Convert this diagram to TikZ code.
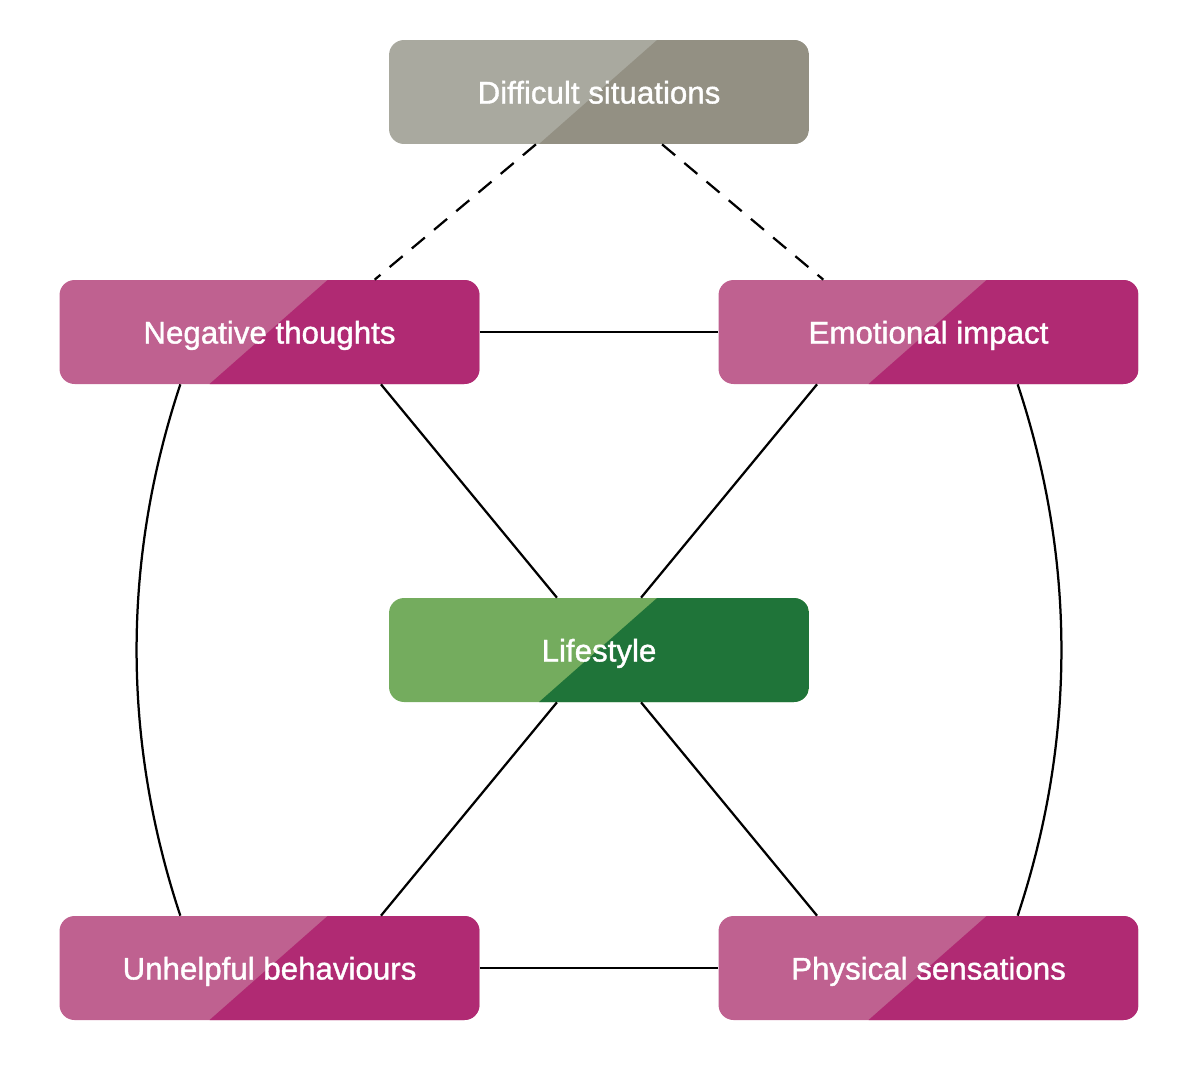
\documentclass[tikz,border=0pt]{standalone}
\usepackage{fontspec}
\setmainfont{Liberation Sans}
\newfontface\boxfont{Liberation Sans}[FakeBold=1.2]
\usetikzlibrary{calc}
\definecolor{grayL}{HTML}{A9A99F}
\definecolor{grayD}{HTML}{939083}
\definecolor{magL}{HTML}{BF6190}
\definecolor{magD}{HTML}{B02A73}
\definecolor{grnL}{HTML}{74AC5E}
\definecolor{grnD}{HTML}{1F7439}
\tikzset{
  box/.style n args={2}{rectangle, rounded corners=0.3cm, minimum width=8.4cm, minimum height=2.08cm,
    inner sep=0pt, text height=0.46cm, text depth=0cm, fill=#1, text=white, font=\boxfont\fontsize{17.8}{20}\selectfont,
    path picture={\fill[#2, sharp corners] ($(path picture bounding box.north west)+(268,0)$) -- (path picture bounding box.north east)
      -- (path picture bounding box.south east) -- ($(path picture bounding box.south west)+(150,0)$) -- cycle;}},
  link/.style={black, line width=0.045cm},
  dlink/.style={black, line width=0.045cm, dash pattern=on 0.34cm off 0.24cm}
}
\begin{document}
\begin{tikzpicture}[x=0.02cm, y=-0.02cm]
\useasboundingbox (0,0) rectangle (1200,1073);
\node[box={grayL}{grayD}] (ds) at (599,92) {Difficult situations};
\node[box={magL}{magD}] (nt) at (269.5,332) {Negative thoughts};
\node[box={magL}{magD}] (ei) at (928.5,332) {Emotional impact};
\node[box={grnL}{grnD}] (ls) at (599,650) {Lifestyle};
\node[box={magL}{magD}] (ub) at (269.5,968) {Unhelpful behaviours};
\node[box={magL}{magD}] (ps) at (928.5,968) {Physical sensations};

\draw[dlink] ($(ds.south west)!0.35!(ds.south east)$) -- ($(nt.north west)!0.75!(nt.north east)$);
\draw[dlink] ($(ds.south west)!0.65!(ds.south east)$) -- ($(ei.north west)!0.25!(ei.north east)$);
\draw[link] (nt.east) -- (ei.west);
\draw[link] (ub.east) -- (ps.west);
\draw[link] ($(nt.south west)!0.765!(nt.south east)$) -- ($(ls.north west)!0.4!(ls.north east)$);
\draw[link] ($(ei.south west)!0.235!(ei.south east)$) -- ($(ls.north west)!0.6!(ls.north east)$);
\draw[link] ($(ls.south west)!0.4!(ls.south east)$) -- ($(ub.north west)!0.765!(ub.north east)$);
\draw[link] ($(ls.south west)!0.6!(ls.south east)$) -- ($(ps.north west)!0.235!(ps.north east)$);
\draw[link] ($(nt.south west)!0.288!(nt.south east)$) .. controls (122,560) and (122,740) .. ($(ub.north west)!0.288!(ub.north east)$);
\draw[link] ($(ei.south west)!0.712!(ei.south east)$) .. controls (1076,560) and (1076,740) .. ($(ps.north west)!0.712!(ps.north east)$);
\end{tikzpicture}
\end{document}
